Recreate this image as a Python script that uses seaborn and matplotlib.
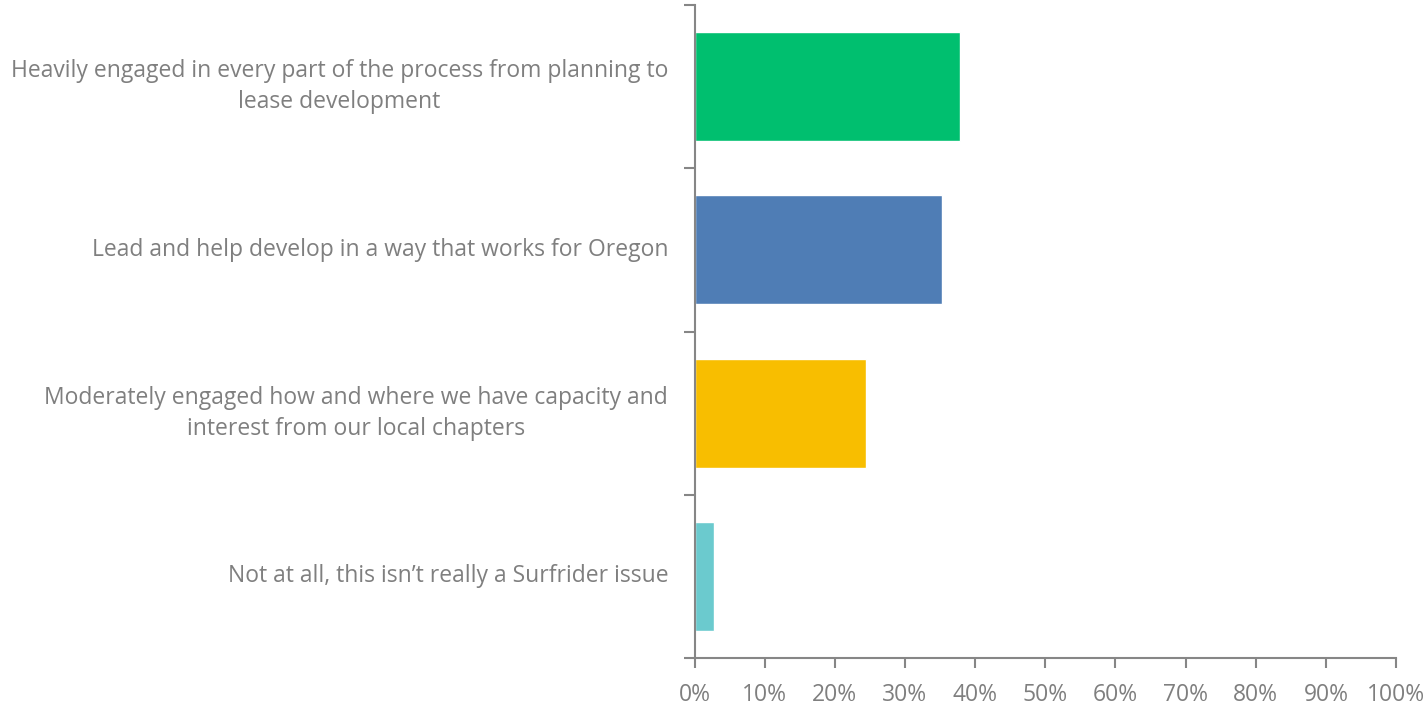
import matplotlib
matplotlib.use("Agg")
import matplotlib.pyplot as plt
import seaborn as sns
import pandas as pd
from matplotlib.ticker import PercentFormatter

categories = [
    "Heavily engaged in every part of the process from planning to\nlease development",
    "Lead and help develop in a way that works for Oregon",
    "Moderately engaged how and where we have capacity and\ninterest from our local chapters",
    "Not at all, this isn\u2019t really a Surfrider issue",
]
shares = [37.8, 35.3, 24.4, 2.8]
bar_colors = ["#00BF6F", "#4F7DB5", "#F8BE00", "#6BCACE"]
x_ticks = [0, 10, 20, 30, 40, 50, 60, 70, 80, 90, 100]

sns.set_theme(style="white")
plt.rcParams["font.family"] = ["Open Sans", "DejaVu Sans"]

df = pd.DataFrame({"category": categories, "share": shares})

fig = plt.figure(figsize=(14.27, 7.07), dpi=100)
ax = fig.add_axes([0.4867, 0.0693, 0.4916, 0.9236])

sns.barplot(data=df, x="share", y="category", hue="category",
            palette=bar_colors, legend=False, width=0.667,
            saturation=1, ax=ax)

grey = "#868686"
text_grey = "#7F7F7F"
ax.set_xlim(0, 100)
ax.set_ylim(3.5, -0.5)
ax.set_xticks(x_ticks)
ax.xaxis.set_major_formatter(PercentFormatter(decimals=0))
ax.set_yticks([-0.5, 0.5, 1.5, 2.5, 3.5])
ax.set_yticklabels([])
ax.set_xlabel("")
ax.set_ylabel("")

for side in ["top", "right"]:
    ax.spines[side].set_visible(False)
for side in ["left", "bottom"]:
    ax.spines[side].set_color(grey)
    ax.spines[side].set_linewidth(1.5)

ax.tick_params(axis="x", which="major", direction="out", length=7,
               width=1.5, color=grey, labelcolor=text_grey,
               labelsize=16.5, pad=11, bottom=True)
ax.tick_params(axis="y", which="major", direction="out", length=8,
               width=1.5, color=grey, left=True)

for i, label in enumerate(categories):
    ax.annotate(label, xy=(0, i), xycoords=("axes fraction", "data"),
                xytext=(-19, 0), textcoords="offset points",
                ha="right", va="center", multialignment="center",
                fontsize=16.5, color=text_grey, linespacing=1.4)

fig.savefig("out.png", dpi=100)
